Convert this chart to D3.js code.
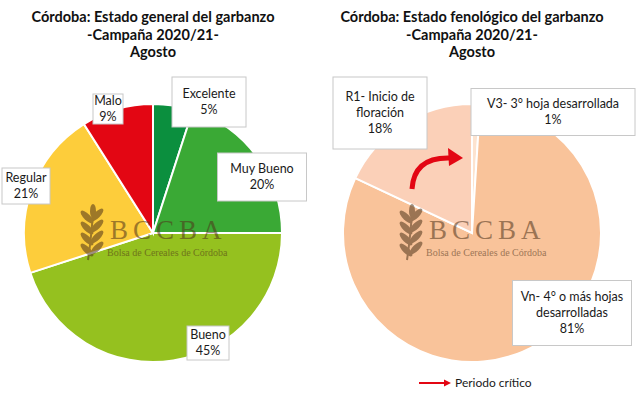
<!DOCTYPE html>
<html>
<head>
<meta charset="utf-8">
<script src="https://cdn.jsdelivr.net/npm/d3@7"></script>
<style>
  body { margin: 0; background: #fff; }
  svg { display: block; font-family: Lato, "Open Sans", sans-serif; }
</style>
</head>
<body>
<svg width="640" height="398"></svg>
<script>
// data
var estadoCats = ["Excelente", "Muy Bueno", "Bueno", "Regular", "Malo"],
    estadoVals = [5, 20, 45, 21, 9],
    estadoColors = ["#0b8f3e", "#3aa935", "#95c11f", "#fdcd3b", "#e30613"];

var fenoCats = [["V3- 3° hoja desarrollada"], ["Vn- 4° o más hojas", "desarrolladas"], ["R1- Inicio de", "floración"]],
    fenoVals = [1, 81, 18],
    fenoColors = ["#fde3cf", "#f9c39a", "#fbd0b8"];

var titles = [
  ["Córdoba: Estado general del garbanzo", "-Campaña 2020/21-", "Agosto"],
  ["Córdoba: Estado fenológico del garbanzo", "-Campaña 2020/21-", "Agosto"]
];
var legendText = "Periodo crítico";

// label box layout (offset from pie center, box size)
var estadoBoxes = [
  {dx: 56, dy: -131, w: 74, h: 50},
  {dx: 109, dy: -56, w: 89, h: 48},
  {dx: 55, dy: 110, w: 42, h: 34},
  {dx: -127, dy: -47, w: 48, h: 36},
  {dx: -45, dy: -124, w: 30, h: 30}
];
var fenoBoxes = [
  {dx: 81, dy: -121, w: 164, h: 47},
  {dx: 100, dy: 80, w: 119, h: 65},
  {dx: -92, dy: -120, w: 94, h: 72}
];

var svg = d3.select("svg");
var radius = 129;

function drawPie(cx, cy, cats, vals, colors, boxes, title) {
  var g = svg.append("g").attr("transform", "translate(" + cx + "," + cy + ")");

  var pie = d3.pie().sort(null).value(function(d) { return d; });
  var arc = d3.arc().innerRadius(0).outerRadius(radius);

  g.selectAll("path.slice")
    .data(pie(vals))
    .enter().append("path")
      .attr("class", "slice")
      .attr("d", arc)
      .attr("fill", function(d, i) { return colors[i]; })
      .attr("stroke", "#fff")
      .attr("stroke-width", 2);

  watermark(g);

  var total = d3.sum(vals);
  var lab = g.selectAll("g.lab")
    .data(vals)
    .enter().append("g")
      .attr("class", "lab")
      .attr("transform", function(d, i) { return "translate(" + boxes[i].dx + "," + boxes[i].dy + ")"; });

  lab.append("rect")
    .attr("x", function(d, i) { return -boxes[i].w / 2; })
    .attr("y", function(d, i) { return -boxes[i].h / 2; })
    .attr("width", function(d, i) { return boxes[i].w; })
    .attr("height", function(d, i) { return boxes[i].h; })
    .attr("fill", "#fff")
    .attr("stroke", "#c8c8c8")
    .attr("stroke-width", 1);

  lab.each(function(d, i) {
    var lines = [].concat(cats[i]).concat([Math.round(d / total * 100) + "%"]);
    var t = d3.select(this).append("text")
      .attr("text-anchor", "middle")
      .attr("font-size", 12.5)
      .attr("fill", "#1a1a1a");
    var lh = 16, y0 = -(lines.length - 1) * lh / 2;
    lines.forEach(function(l, k) {
      t.append("tspan").attr("x", 0).attr("y", y0 + k * lh).attr("dy", "0.35em").text(l);
    });
  });

  var tt = svg.append("text")
    .attr("text-anchor", "middle")
    .attr("font-size", 14.5)
    .attr("font-weight", "bold")
    .attr("fill", "#111");
  title.forEach(function(l, k) {
    tt.append("tspan").attr("x", cx).attr("y", 22 + k * 17.5).text(l);
  });
}

function watermark(g) {
  var col = "#50341a";
  var wm = g.append("g").attr("opacity", 0.55).attr("fill", col);
  // wheat stalk
  var ic = wm.append("g").attr("transform", "translate(-61,2)");
  ic.append("path")
    .attr("d", "M1,-22 Q-1,5 -4,25")
    .attr("fill", "none")
    .attr("stroke", col).attr("stroke-width", 2);
  [-14, -3, 8, 19].forEach(function(y) {
    ic.append("ellipse").attr("cx", -5).attr("cy", y - 4).attr("rx", 3.2).attr("ry", 8.5)
      .attr("transform", "rotate(-45," + (-5) + "," + (y - 4) + ")");
    ic.append("ellipse").attr("cx", 5).attr("cy", y - 6).attr("rx", 3.2).attr("ry", 8.5)
      .attr("transform", "rotate(45," + 5 + "," + (y - 6) + ")");
  });
  ic.append("ellipse").attr("cx", 1).attr("cy", -24).attr("rx", 3).attr("ry", 7);
  wm.append("text")
    .attr("x", -43).attr("y", 6)
    .attr("font-family", "'Liberation Serif', 'DejaVu Serif', serif")
    .attr("font-size", 27)
    .attr("letter-spacing", 5)
    .text("BCCBA");
  wm.append("text")
    .attr("x", -46).attr("y", 23)
    .attr("font-family", "'Liberation Serif', 'DejaVu Serif', serif")
    .attr("font-size", 10)
    .text("Bolsa de Cereales de Córdoba");
}

drawPie(153, 233, estadoCats, estadoVals, estadoColors, estadoBoxes, titles[0]);
drawPie(472, 233, fenoCats, fenoVals, fenoColors, fenoBoxes, titles[1]);

// curved arrow inside R1 slice
var ax = 472, ay = 233;
var p = d3.path();
p.moveTo(ax - 60, ay - 44);
p.quadraticCurveTo(ax - 58, ay - 76, ax - 22, ay - 75);
svg.append("path").attr("d", p.toString())
  .attr("fill", "none").attr("stroke", "#e30613").attr("stroke-width", 5);
svg.append("path")
  .attr("d", "M" + (ax - 24) + "," + (ay - 85) + " L" + (ax - 9) + "," + (ay - 75) + " L" + (ax - 23) + "," + (ay - 67) + "Z")
  .attr("fill", "#e30613");

// legend
var lg = svg.append("g").attr("transform", "translate(419,383)");
lg.append("line").attr("x1", 0).attr("x2", 27).attr("y1", 0).attr("y2", 0)
  .attr("stroke", "#e30613").attr("stroke-width", 2);
lg.append("path").attr("d", "M25,-3.5 L32,0 L25,3.5Z").attr("fill", "#e30613");
lg.append("text").attr("x", 36).attr("y", 0).attr("dy", "0.35em")
  .attr("font-size", 12).attr("fill", "#1a1a1a").text(legendText);
</script>
</body>
</html>
